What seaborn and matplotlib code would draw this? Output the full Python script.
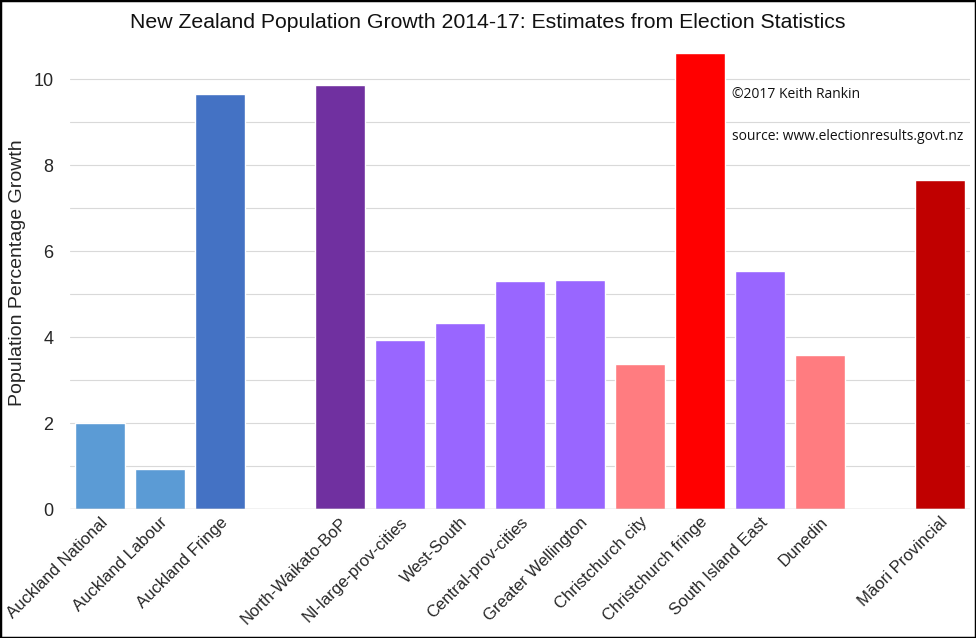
import matplotlib
matplotlib.use("Agg")
import matplotlib.pyplot as plt
import seaborn as sns
import pandas as pd
from matplotlib.patches import Rectangle

categories = ["Auckland National", "Auckland Labour", "Auckland Fringe", "gap1",
              "North-Waikato-BoP", "NI-large-prov-cities", "West-South",
              "Central-prov-cities", "Greater Wellington", "Christchurch city",
              "Christchurch fringe", "South Island East", "Dunedin", "gap2",
              "Māori Provincial"]
values = [2.0, 0.93, 9.65, None, 9.86, 3.93, 4.33, 5.30, 5.33, 3.37, 10.6, 5.53, 3.58, None, 7.65]
colors = ["#5B9BD5", "#5B9BD5", "#4472C4", "#FFFFFF", "#7030A0", "#9966FF", "#9966FF",
          "#9966FF", "#9966FF", "#FF7C80", "#FF0000", "#9966FF", "#FF7C80", "#FFFFFF",
          "#C00000"]
tick_labels = [c if not c.startswith("gap") else "" for c in categories]

df = pd.DataFrame({"region": categories, "growth": values})
df = df.dropna()

sns.set_theme(style="white")
plt.rcParams["font.family"] = ["Liberation Sans", "DejaVu Sans"]

fig = plt.figure(figsize=(9.76, 6.38), dpi=100)
ax = fig.add_axes([70/976, 129/638, 900/976, 473/638])

palette = dict(zip(categories, colors))
sns.barplot(data=df, x="region", y="growth", hue="region", order=categories,
            hue_order=categories, palette=palette, legend=False, width=0.83,
            saturation=1, ax=ax)

ax.set_ylim(0, 11)
ax.set_xlim(-0.5, len(categories) - 0.5)
ax.set_yticks([0, 2, 4, 6, 8, 10])
for y in range(1, 11):
    ax.axhline(y, color="#D9D9D9", lw=0.8, zorder=0)
ax.axhline(0, color="#BFBFBF", lw=1.0, zorder=3)
ax.tick_params(axis="y", which="both", length=0, labelsize=13, pad=12)
ax.tick_params(axis="x", length=0, labelsize=12, pad=4)
ax.set_xticks(range(len(categories)))
ax.set_xticklabels(tick_labels, rotation=45, ha="right", rotation_mode="anchor")
for s in ax.spines.values():
    s.set_visible(False)
ax.set_xlabel("")
ax.set_ylabel("Population Percentage Growth", fontsize=14)
ax.yaxis.set_label_coords(-0.049, 0.5)

fig.text(488/976, 1 - 22/638, "New Zealand Population Growth 2014-17: Estimates from Election Statistics",
         ha="center", va="center", fontsize=15.3, color="#111111")
ax.text(10.53, 9.65, "©2017 Keith Rankin", fontsize=10, ha="left", va="center",
        family=["Open Sans", "DejaVu Sans"], color="#111111")
ax.text(10.53, 8.67, "source: www.electionresults.govt.nz", fontsize=10, ha="left", va="center",
        family=["Open Sans", "DejaVu Sans"], color="#111111")

fig.patches.append(Rectangle((0, 0), 1, 1, transform=fig.transFigure, fill=False,
                             edgecolor="black", lw=2.5))
fig.savefig("out.png", dpi=100)
